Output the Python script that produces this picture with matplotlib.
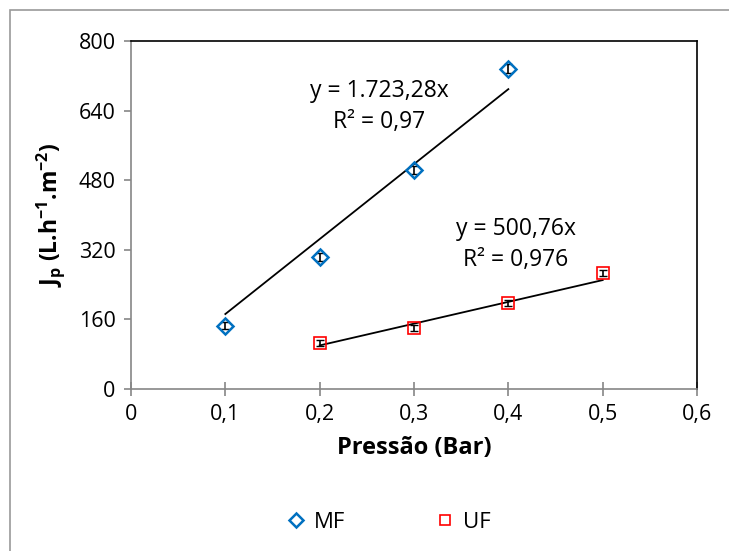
import matplotlib
matplotlib.use('Agg')
import matplotlib.pyplot as plt
from matplotlib.patches import Rectangle
from matplotlib.ticker import FuncFormatter
import numpy as np

plt.rcParams['font.family'] = ['Open Sans', 'DejaVu Sans']
plt.rcParams['mathtext.fontset'] = 'custom'
plt.rcParams['mathtext.rm'] = 'Open Sans'
plt.rcParams['mathtext.bf'] = 'Open Sans:bold'

# data
mf_x = [0.1, 0.2, 0.3, 0.4]
mf_y = [145, 303, 503, 736]
mf_err = [8, 9, 9, 10]
uf_x = [0.2, 0.3, 0.4, 0.5]
uf_y = [106, 140, 198, 267]
uf_err = [7, 7, 7, 7]
mf_slope = 1723.28
uf_slope = 500.76
mf_label = 'y = 1.723,28x\nR² = 0,97'
uf_label = 'y = 500,76x\nR² = 0,976'

fig = plt.figure(figsize=(7.29, 5.51), dpi=100)
# outer chart border
fig.patches.append(Rectangle((10 / 729, -0.1), 1.1, 1 - 10 / 551 + 0.1,
                             transform=fig.transFigure, fill=False,
                             edgecolor='#9a9a9a', linewidth=1.2))

ax = fig.add_axes([131 / 729, 1 - 389 / 551, 566 / 729, 348 / 551])

# trendlines
lx = np.array([mf_x[0], mf_x[-1]])
ax.plot(lx, mf_slope * lx, color='black', lw=1.3, zorder=2)
lx = np.array([uf_x[0], uf_x[-1]])
ax.plot(lx, uf_slope * lx, color='black', lw=1.3, zorder=2)

ax.errorbar(mf_x, mf_y, yerr=mf_err, fmt='none', ecolor='black',
            elinewidth=1.2, capsize=3, zorder=3)
ax.errorbar(uf_x, uf_y, yerr=uf_err, fmt='none', ecolor='black',
            elinewidth=1.2, capsize=3, zorder=3)
ax.plot(mf_x, mf_y, 'D', ms=8, mfc='none', mec='#0070C0', mew=1.8,
        ls='none', label='MF', zorder=4)
ax.plot(uf_x, uf_y, 's', ms=9, mfc='none', mec='#FF0000', mew=1.2,
        ls='none', label='UF', zorder=4)

ax.text(0.263, 650, mf_label, ha='center', va='center', fontsize=16.5,
        linespacing=1.4)
ax.text(0.408, 333, uf_label, ha='center', va='center', fontsize=16.5,
        linespacing=1.4)

ax.set_xlim(0, 0.6)
ax.set_ylim(0, 800)
ax.set_xticks(np.arange(0, 0.61, 0.1))
ax.set_yticks(np.arange(0, 801, 160))
ax.xaxis.set_major_formatter(FuncFormatter(
    lambda v, p: '0' if abs(v) < 1e-9 else ('%.1f' % v).replace('.', ',')))
ax.tick_params(axis='both', labelsize=15.5, color='#868686', length=5,
               width=1.2)
ax.tick_params(axis='x', direction='inout', length=10, pad=6)
ax.tick_params(axis='y', direction='out', pad=6)

for s in ['left', 'bottom']:
    ax.spines[s].set_color('#868686')
    ax.spines[s].set_linewidth(1.2)
for s in ['top', 'right']:
    ax.spines[s].set_color('black')
    ax.spines[s].set_linewidth(1.2)

ax.set_xlabel('Pressão (Bar)', fontsize=17, fontweight='bold', labelpad=8)
ax.set_ylabel(r'J$_\mathbf{p}$ (L.h$^\mathbf{-1}$.m$^\mathbf{-2}$)',
              fontsize=16.5, fontweight='bold', labelpad=8)

fig.legend(loc='center', bbox_to_anchor=(388 / 729, 1 - 522 / 551), ncol=2,
           frameon=False, fontsize=16, columnspacing=4.0, handletextpad=0.3,
           handlelength=1.0, markerscale=0.85)

fig.savefig('out.png', dpi=100)
